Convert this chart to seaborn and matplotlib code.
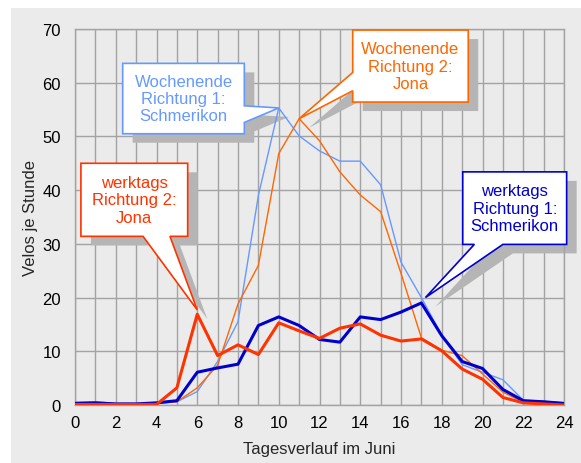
import numpy as np
import pandas as pd
import matplotlib
matplotlib.use("Agg")
import matplotlib.pyplot as plt
import matplotlib.transforms as mtransforms
from matplotlib.patches import Polygon, Rectangle
import seaborn as sns

# Velos je Stunde, Tagesverlauf im Juni
hours = list(range(25))
werktags_r1 = [0.3, 0.4, 0.2, 0.2, 0.4, 0.8, 6.1, 6.9, 7.6, 14.8, 16.4, 14.8, 12.2,
               11.7, 16.4, 15.9, 17.3, 19.0, 12.9, 8.1, 6.8, 2.9, 0.8, 0.6, 0.3]
werktags_r2 = [0.1, 0.1, 0.1, 0.1, 0.1, 3.2, 16.9, 9.2, 11.2, 9.4, 15.3, 13.8, 12.4,
               14.3, 15.1, 13.0, 11.9, 12.3, 10.1, 6.7, 4.8, 1.4, 0.4, 0.2, 0.0]
wochenende_r1 = [0.5, 0.6, 0.3, 0.3, 0.4, 0.6, 2.5, 8.1, 15.5, 39.0, 55.3, 50.1, 47.3,
                 45.4, 45.4, 41.0, 26.6, 20.0, 13.0, 7.5, 6.1, 4.7, 0.9, 0.7, 0.4]
wochenende_r2 = [0.2, 0.2, 0.2, 0.2, 0.3, 0.6, 3.2, 7.4, 18.8, 26.0, 46.8, 53.3, 49.2,
                 43.4, 39.1, 36.0, 24.5, 12.5, 10.2, 9.2, 5.8, 2.4, 0.5, 0.3, 0.1]

labels = {
    "we1": "Wochenende\nRichtung 1:\nSchmerikon",
    "we2": "Wochenende\nRichtung 2:\nJona",
    "wt2": "werktags\nRichtung 2:\nJona",
    "wt1": "werktags\nRichtung 1:\nSchmerikon",
}

BG = "#ebebeb"
GRID = "#a3a3a3"
SHADOW = "#b5b5b5"

sns.set_theme(style="whitegrid")
plt.rcParams["font.family"] = ["Liberation Sans", "DejaVu Sans"]

fig = plt.figure(figsize=(5.81, 4.64), dpi=100, facecolor="white")
fig.patches.append(Rectangle((11 / 581, 0), 1, 1 - 9 / 464, transform=fig.transFigure,
                             facecolor=BG, edgecolor="none", zorder=-10))
ax = fig.add_axes([75 / 581, 58 / 464, 489 / 581, 376 / 464])
ax.set_facecolor(BG)

df = pd.DataFrame({"hour": hours, "wt1": werktags_r1, "wt2": werktags_r2,
                   "we1": wochenende_r1, "we2": wochenende_r2})

sns.lineplot(data=df, x="hour", y="we1", color="#6699ff", linewidth=1.0, ax=ax, zorder=3)
sns.lineplot(data=df, x="hour", y="we2", color="#ff6600", linewidth=1.0, ax=ax, zorder=3)
sns.lineplot(data=df, x="hour", y="wt1", color="#0000cc", linewidth=2.2, ax=ax, zorder=4)
sns.lineplot(data=df, x="hour", y="wt2", color="#ff3300", linewidth=2.2, ax=ax, zorder=4)

ax.set_xlim(0, 24)
ax.set_ylim(0, 70)
ax.set_xticks(range(0, 25, 2))
ax.set_xticks(range(0, 25), minor=True)
ax.set_yticks(range(0, 71, 10))
ax.grid(which="both", color=GRID, linewidth=1.0)
ax.set_axisbelow(True)
for s in ax.spines.values():
    s.set_color(GRID)
    s.set_linewidth(1.0)
ax.tick_params(axis="both", which="both", length=0, labelsize=12, colors="black")
ax.tick_params(axis="x", pad=7)
ax.tick_params(axis="y", pad=10)
ax.set_xlabel("Tagesverlauf im Juni", fontsize=12, labelpad=8)
ax.set_ylabel("Velos je Stunde", fontsize=12, labelpad=3)


def callout(key, color, box, edge, base, tip):
    """Textbox with pointer wedge and drop shadow."""
    x0, y0, x1, y1 = box
    if edge == "right":
        verts = [(x0, y0), (x1, y0), (x1, base[1]), tip, (x1, base[0]), (x1, y1), (x0, y1)]
    elif edge == "left":
        verts = [(x0, y1), (x0, base[0]), tip, (x0, base[1]), (x0, y0), (x1, y0), (x1, y1)]
    else:
        verts = [(x0, y0), (base[0], y0), tip, (base[1], y0), (x1, y0), (x1, y1), (x0, y1)]
    shadow_tr = ax.transData + mtransforms.ScaledTranslation(10 / 100, -9 / 100, fig.dpi_scale_trans)
    ax.add_patch(Polygon(verts, closed=True, facecolor=SHADOW, edgecolor="none",
                         transform=shadow_tr, zorder=2, clip_on=False))
    ax.add_patch(Polygon(verts, closed=True, facecolor="white", edgecolor=color,
                         linewidth=1.2, zorder=5, clip_on=False))
    ax.text((x0 + x1) / 2, (y0 + y1) / 2, labels[key], ha="center", va="center",
            fontsize=12, color=color, linespacing=1.2, zorder=6)


callout("we1", "#6699ff", (2.34, 50.5, 8.31, 63.6), "right", (55.7, 52.6),
        (hours[10], wochenende_r1[10]))
callout("we2", "#ff6600", (13.63, 56.4, 19.30, 69.8), "left", (61.9, 58.5),
        (hours[11], wochenende_r2[11]))
callout("wt2", "#ff3300", (0.29, 31.4, 5.53, 45.0), "bottom", (3.34, 4.66),
        (hours[6], werktags_r2[6] + 0.8))
callout("wt1", "#0000cc", (19.03, 29.9, 24.13, 43.4), "bottom", (19.6, 21.0),
        (hours[17] + 0.2, werktags_r1[17] + 1.0))

fig.savefig("out.png", dpi=100, facecolor="white")
